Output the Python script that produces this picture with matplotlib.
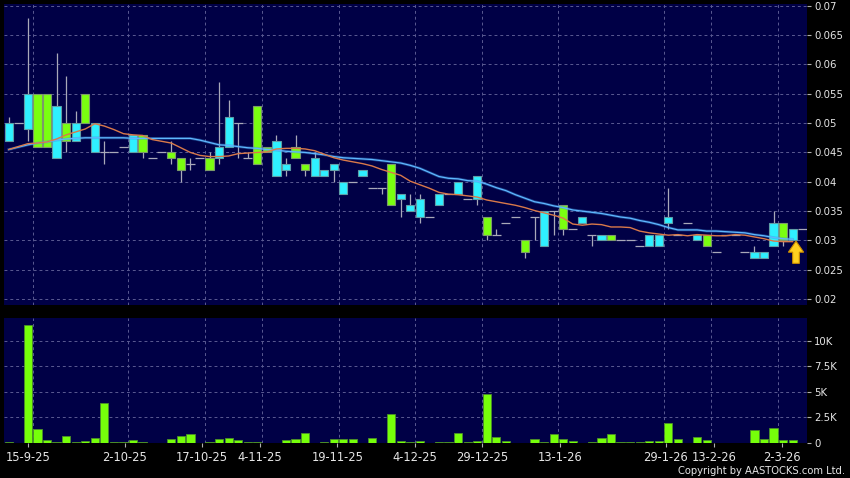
import numpy as np
import matplotlib.pyplot as plt
from matplotlib.ticker import FixedLocator, FixedFormatter

# daily candles, index 0 = first session shown
opens = [0.047, 0.050, 0.049, 0.055, 0.055, 0.044, 0.050, 0.047, 0.055, 0.045,
         0.045, 0.045, 0.046, 0.045, 0.048, 0.044, 0.045, 0.045, 0.044, 0.043,
         0.044, 0.044, 0.044, 0.046, 0.050, 0.044, 0.053, 0.046, 0.041, 0.042,
         0.046, 0.043, 0.041, 0.041, 0.042, 0.038, 0.040, 0.041, 0.039, 0.039,
         0.043, 0.037, 0.035, 0.034, 0.034, 0.036, 0.038, 0.038, 0.037, 0.037,
         0.034, 0.031, 0.033, 0.034, 0.030, 0.034, 0.029, 0.035, 0.036, 0.032,
         0.033, 0.031, 0.030, 0.031, 0.030, 0.030, 0.029, 0.029, 0.029, 0.033,
         0.031, 0.033, 0.030, 0.031, 0.028, 0.031, 0.031, 0.028, 0.027, 0.027,
         0.029, 0.033, 0.030, 0.032]
highs = [0.051, 0.050, 0.068, 0.055, 0.055, 0.062, 0.058, 0.052, 0.055, 0.050,
         0.047, 0.045, 0.046, 0.048, 0.048, 0.044, 0.045, 0.047, 0.044, 0.044,
         0.044, 0.045, 0.057, 0.054, 0.050, 0.045, 0.053, 0.046, 0.048, 0.044,
         0.048, 0.043, 0.045, 0.042, 0.043, 0.040, 0.040, 0.042, 0.039, 0.039,
         0.043, 0.038, 0.038, 0.038, 0.034, 0.038, 0.038, 0.040, 0.037, 0.041,
         0.034, 0.032, 0.033, 0.034, 0.030, 0.034, 0.035, 0.035, 0.036, 0.032,
         0.034, 0.031, 0.031, 0.031, 0.030, 0.030, 0.029, 0.031, 0.031, 0.039,
         0.031, 0.033, 0.031, 0.031, 0.028, 0.031, 0.031, 0.028, 0.029, 0.028,
         0.035, 0.033, 0.032, 0.032]
lows = [0.047, 0.050, 0.047, 0.046, 0.046, 0.044, 0.045, 0.047, 0.050, 0.045,
        0.043, 0.045, 0.046, 0.045, 0.044, 0.044, 0.045, 0.043, 0.040, 0.042,
        0.044, 0.042, 0.043, 0.046, 0.044, 0.044, 0.043, 0.045, 0.041, 0.041,
        0.044, 0.041, 0.041, 0.041, 0.040, 0.038, 0.040, 0.041, 0.039, 0.038,
        0.036, 0.034, 0.035, 0.033, 0.034, 0.036, 0.038, 0.038, 0.037, 0.036,
        0.030, 0.031, 0.033, 0.034, 0.027, 0.030, 0.029, 0.031, 0.031, 0.032,
        0.033, 0.029, 0.030, 0.030, 0.030, 0.030, 0.029, 0.029, 0.029, 0.032,
        0.031, 0.033, 0.030, 0.029, 0.028, 0.031, 0.031, 0.028, 0.027, 0.027,
        0.029, 0.029, 0.030, 0.032]
closes = [0.050, 0.050, 0.055, 0.046, 0.046, 0.053, 0.047, 0.050, 0.050, 0.050,
          0.045, 0.045, 0.046, 0.048, 0.045, 0.044, 0.045, 0.044, 0.042, 0.043,
          0.044, 0.042, 0.046, 0.051, 0.050, 0.044, 0.043, 0.045, 0.047, 0.043,
          0.044, 0.042, 0.044, 0.042, 0.043, 0.040, 0.040, 0.042, 0.039, 0.039,
          0.036, 0.038, 0.036, 0.037, 0.034, 0.038, 0.038, 0.040, 0.037, 0.041,
          0.031, 0.031, 0.033, 0.034, 0.028, 0.034, 0.035, 0.035, 0.032, 0.032,
          0.034, 0.031, 0.031, 0.030, 0.030, 0.030, 0.029, 0.031, 0.031, 0.034,
          0.031, 0.033, 0.031, 0.029, 0.028, 0.031, 0.031, 0.028, 0.028, 0.028,
          0.033, 0.030, 0.032, 0.032]
volume = [70, 0, 11570, 1310, 300, 100, 620, 70, 160, 430,
          3930, 30, 30, 230, 30, 10, 0, 400, 660, 850,
          0, 50, 360, 430, 260, 70, 70, 0, 0, 230,
          330, 920, 0, 30, 400, 330, 330, 0, 460, 0,
          2790, 160, 50, 160, 0, 50, 50, 920, 70, 160,
          4790, 590, 160, 0, 0, 360, 70, 890, 330, 160,
          0, 50, 460, 820, 100, 100, 100, 160, 160, 1970,
          330, 0, 530, 260, 0, 0, 0, 0, 1250, 330,
          1480, 230, 230, 0]

# moving averages as drawn on the chart
ma_short = [0.0455, 0.0460, 0.0465, 0.0466, 0.0468, 0.0473, 0.0480, 0.0485, 0.0490, 0.0499,
            0.0495, 0.0489, 0.0482, 0.0480, 0.0479, 0.0472, 0.0469, 0.0466, 0.0458, 0.0450,
            0.0445, 0.0443, 0.0443, 0.0444, 0.0448, 0.0449, 0.0450, 0.0451, 0.0456, 0.0457,
            0.0457, 0.0456, 0.0453, 0.0447, 0.0441, 0.0437, 0.0434, 0.0431, 0.0427, 0.0421,
            0.0416, 0.0411, 0.0401, 0.0395, 0.0389, 0.0382, 0.0379, 0.0378, 0.0376, 0.0374,
            0.0369, 0.0366, 0.0363, 0.0360, 0.0356, 0.0351, 0.0347, 0.0343, 0.0338, 0.0328,
            0.0326, 0.0328, 0.0327, 0.0323, 0.0323, 0.0322, 0.0316, 0.0313, 0.0311, 0.0309,
            0.0310, 0.0308, 0.0310, 0.0309, 0.0308, 0.0308, 0.0310, 0.0309, 0.0306, 0.0303,
            0.0299, 0.0298, 0.0298, np.nan]
ma_long = [0.0455, 0.0459, 0.0463, 0.0466, 0.0468, 0.0471, 0.0473, 0.0474, 0.0475, 0.0475,
           0.0475, 0.0475, 0.0475, 0.0474, 0.0474, 0.0474, 0.0474, 0.0474, 0.0474, 0.0474,
           0.0471, 0.0467, 0.0463, 0.0462, 0.0460, 0.0458, 0.0457, 0.0455, 0.0454, 0.0452,
           0.0451, 0.0450, 0.0448, 0.0446, 0.0443, 0.0441, 0.0440, 0.0439, 0.0438, 0.0436,
           0.0434, 0.0432, 0.0428, 0.0423, 0.0416, 0.0409, 0.0406, 0.0405, 0.0402, 0.0401,
           0.0396, 0.0390, 0.0385, 0.0378, 0.0372, 0.0366, 0.0363, 0.0359, 0.0356, 0.0352,
           0.0350, 0.0348, 0.0346, 0.0343, 0.0340, 0.0338, 0.0334, 0.0331, 0.0327, 0.0322,
           0.0318, 0.0318, 0.0318, 0.0316, 0.0316, 0.0315, 0.0314, 0.0313, 0.0310, 0.0308,
           0.0305, 0.0303, 0.0302, np.nan]

price_ticks = [0.02, 0.025, 0.03, 0.035, 0.04, 0.045, 0.05, 0.055, 0.06, 0.065, 0.07]
price_labels = ['0.02', '0.025', '0.03', '0.035', '0.04', '0.045', '0.05', '0.055', '0.06', '0.065', '0.07']
vol_ticks = [0, 2500, 5000, 7500, 10000]
vol_labels = ['0', '2.5K', '5K', '7.5K', '10K']
date_idx = [2, 12, 20, 26, 34, 42, 49, 57, 68, 73, 80]
date_labels = ['15-9-25', '2-10-25', '17-10-25', '4-11-25', '19-11-25', '4-12-25',
               '29-12-25', '13-1-26', '29-1-26', '13-2-26', '2-3-26']
signal_idx = 82

BG = '#000046'
CYAN = '#2ff0ff'
GREEN = '#7aff10'
WICK = '#a9a9b9'
GRID = '#5a5a92'
TXT = '#e6e6e6'

o = np.array(opens)
h = np.array(highs)
l = np.array(lows)
c = np.array(closes)
x = np.arange(len(o))
up = c > o
dn = c < o
flat = ~(up | dn)

fig = plt.figure(figsize=(8.5, 4.78), dpi=100, facecolor='black')
ax = fig.add_axes([0.0047, 0.3619, 0.9447, 0.6297], facecolor=BG)
axv = fig.add_axes([0.0047, 0.0726, 0.9447, 0.2615], facecolor=BG, sharex=ax)

# candles
ax.vlines(x, l, h, color=WICK, lw=0.9, zorder=2)
ax.bar(x[up], (c - o)[up], bottom=o[up], width=0.86, color=CYAN,
       edgecolor='#5f9ea6', lw=0.8, zorder=3)
ax.bar(x[dn], (o - c)[dn], bottom=c[dn], width=0.86, color=GREEN,
       edgecolor='#7c9a6a', lw=0.8, zorder=3)
ax.hlines(c[flat], x[flat] - 0.47, x[flat] + 0.47, color=WICK, lw=0.9, zorder=3)

# moving averages
ax.plot(x, ma_long, color='#3d8fe0', lw=2.0, alpha=0.4, zorder=4)
ax.plot(x, ma_long, color='#5fb8ff', lw=0.9, zorder=5)
ax.plot(x, ma_short, color='#d9794a', lw=1.0, zorder=5)

# buy signal arrow under the last candle
ax.arrow(signal_idx + 0.35, lows[signal_idx] - 0.0039, 0, 0.0038,
         width=0.7, head_width=1.6, head_length=0.0019, length_includes_head=True,
         fc='#ffd21f', ec='#c88a00', lw=0.8, zorder=6)

# volume
axv.bar(x, volume, width=0.86, color='#76ff0a', edgecolor='#4c8f2a', lw=0.6, zorder=3)

ax.set_xlim(-0.5, 83.5)
ax.set_ylim(0.0190, 0.0703)
axv.set_ylim(-60, 12200)

grid_pos = [d + 0.5 for d in date_idx]
for a in (ax, axv):
    for s in a.spines.values():
        s.set_visible(False)
    a.xaxis.set_minor_locator(FixedLocator(grid_pos))
    a.grid(which='minor', axis='x', color=GRID, lw=0.7, ls=(0, (3, 3)))
    a.grid(which='major', axis='y', color=GRID, lw=0.7, ls=(0, (3, 3)))
    a.yaxis.tick_right()
    a.tick_params(axis='y', length=3, width=0.8, color='#b0b0b0',
                  labelcolor=TXT, labelsize=7.3, pad=2)
    a.tick_params(axis='x', which='minor', length=0)

ax.yaxis.set_major_locator(FixedLocator(price_ticks))
ax.yaxis.set_major_formatter(FixedFormatter(price_labels))
axv.yaxis.set_major_locator(FixedLocator(vol_ticks))
axv.yaxis.set_major_formatter(FixedFormatter(vol_labels))

ax.tick_params(axis='x', which='both', bottom=False, labelbottom=False)
axv.xaxis.set_major_locator(FixedLocator([d * 1.011 for d in date_idx]))
axv.xaxis.set_major_formatter(FixedFormatter(date_labels))
axv.tick_params(axis='x', which='major', length=3, width=0.8, color='#b0b0b0',
                labelcolor=TXT, labelsize=8.3, pad=2.5)

fig.text(845 / 850, 1 - 471 / 478, 'Copyright by AASTOCKS.com Ltd.',
         ha='right', va='center', color=TXT, fontsize=7.2)

fig.savefig('out.png', dpi=100, facecolor='black')
